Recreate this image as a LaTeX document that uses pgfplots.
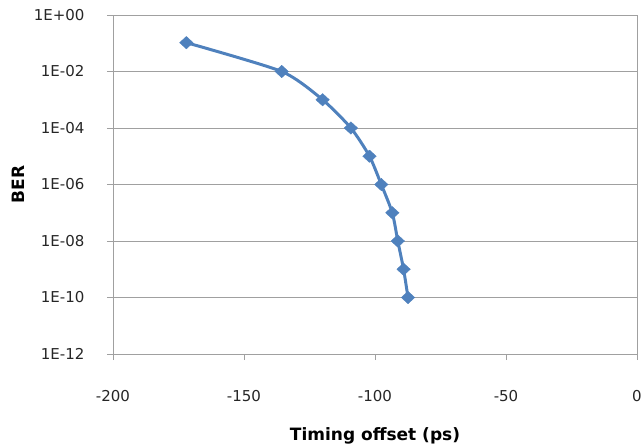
\documentclass[border=0pt]{standalone}
\usepackage{fontspec}
\setmainfont{DejaVu Sans}
\usepackage{pgfplots}
\pgfplotsset{compat=1.18}
\definecolor{xlblue}{HTML}{4F81BD}
\definecolor{gridgray}{HTML}{A0A0A0}

\begin{document}
\begin{tikzpicture}
\useasboundingbox (-113bp,-94bp) rectangle (530bp,354bp);
\begin{axis}[
    at={(0,0)}, anchor=south west,
    scale only axis,
    width=524bp, height=339bp,
    ymode=log,
    xmin=-200, xmax=0,
    ymin=1e-12, ymax=1,
    xtick={-200,-150,-100,-50,0},
    ytick={1e0,1e-2,1e-4,1e-6,1e-8,1e-10,1e-12},
    yticklabels={1E+00,1E-02,1E-04,1E-06,1E-08,1E-10,1E-12},
    minor ytick={},
    ymajorgrids,
    major grid style={gridgray, line width=0.8pt},
    axis line style={gridgray, line width=0.8pt},
    tick style={gridgray, line width=0.8pt},
    tick align=outside,
    major tick length=6bp,
    xtick pos=bottom, ytick pos=left,
    /pgf/number format/assume math mode=true,
    tick label style={font=\fontsize{15bp}{17bp}\selectfont, text=black!85},
    xticklabel style={yshift=-27bp},
    yticklabel style={xshift=-19bp},
    xlabel={\textbf{Timing offset (ps)}},
    ylabel={\textbf{BER}},
    label style={font=\fontsize{17bp}{19bp}\selectfont},
    xlabel style={yshift=-19bp},
    ylabel style={yshift=2bp},
]
\addplot[color=xlblue, line width=3pt, smooth, tension=0.4,
         mark=diamond*, mark size=6.2bp, mark options={fill=xlblue, line width=0.4pt, xscale=1.45}]
coordinates {
 (-172,1.05e-1)
 (-135.6,1e-2)
 (-120,1e-3)
 (-109.2,1e-4)
 (-102.1,1e-5)
 (-97.6,1e-6)
 (-93.4,1e-7)
 (-91.3,1e-8)
 (-89.1,1e-9)
 (-87.4,1e-10)
};
\end{axis}
\end{tikzpicture}
\end{document}
